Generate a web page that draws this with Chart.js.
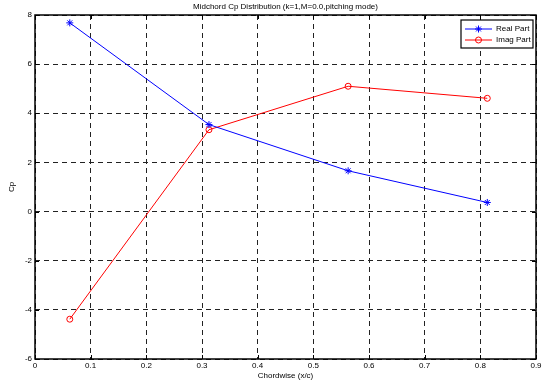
<!DOCTYPE html>
<html>
<head>
<meta charset="utf-8">
<script src="https://cdn.jsdelivr.net/npm/chart.js@4/dist/chart.umd.min.js"></script>
<style>
  html, body { margin: 0; padding: 0; background: #fff; }
  #wrap { width: 551px; height: 385px; position: relative; }
</style>
</head>
<body>
<div id="wrap"><canvas id="cp"></canvas></div>
<script>
// data
var chordX = [0.0625, 0.3125, 0.5625, 0.8125];
var realPart = [7.68, 3.54, 1.66, 0.37];
var imagPart = [-4.38, 3.33, 5.1, 4.61];
var xTicks = [0, 0.1, 0.2, 0.3, 0.4, 0.5, 0.6, 0.7, 0.8, 0.9];
var yTicks = [-6, -4, -2, 0, 2, 4, 6, 8];

var FONT = "'Liberation Sans', Arial, sans-serif";

function pts(xs, ys) {
    return xs.map(function (x, i) { return { x: x, y: ys[i] }; });
}

function marker(ctx, style, x, y, r, color) {
    ctx.save();
    ctx.strokeStyle = color;
    ctx.lineWidth = 1;
    ctx.beginPath();
    if (style === "star") {
        ctx.moveTo(x - r, y); ctx.lineTo(x + r, y);
        ctx.moveTo(x, y - r); ctx.lineTo(x, y + r);
        var d = r * 0.7;
        ctx.moveTo(x - d, y - d); ctx.lineTo(x + d, y + d);
        ctx.moveTo(x - d, y + d); ctx.lineTo(x + d, y - d);
    } else {
        ctx.arc(x, y, r, 0, Math.PI * 2);
    }
    ctx.stroke();
    ctx.restore();
}

// title, box, inner ticks and legend drawn like a matlab axes
var matlabBox = {
    id: "matlabBox",
    afterDraw: function (chart) {
        var ctx = chart.ctx, a = chart.chartArea;
        var sx = chart.scales.x, sy = chart.scales.y;
        ctx.save();
        ctx.strokeStyle = "#000";
        ctx.lineWidth = 1;
        ctx.beginPath();
        xTicks.forEach(function (v) {
            var px = Math.round(sx.getPixelForValue(v)) + 0.5;
            ctx.moveTo(px, a.bottom); ctx.lineTo(px, a.bottom - 4);
            ctx.moveTo(px, a.top); ctx.lineTo(px, a.top + 4);
        });
        yTicks.forEach(function (v) {
            var py = Math.round(sy.getPixelForValue(v)) + 0.5;
            ctx.moveTo(a.left, py); ctx.lineTo(a.left + 4, py);
            ctx.moveTo(a.right, py); ctx.lineTo(a.right - 4, py);
        });
        ctx.stroke();
        ctx.lineWidth = 1.5;
        ctx.strokeRect(a.left, a.top, a.right - a.left, a.bottom - a.top);

        // title
        ctx.fillStyle = "#000";
        ctx.font = "8px " + FONT;
        ctx.textAlign = "center";
        ctx.textBaseline = "middle";
        ctx.fillText("Midchord Cp Distribution (k=1,M=0.0,pitching mode)", (a.left + a.right) / 2, 7);

        // legend
        var lx = 461, ly = 20, lw = 72, lh = 28;
        ctx.fillStyle = "#fff";
        ctx.fillRect(lx, ly, lw, lh);
        ctx.lineWidth = 1.2;
        ctx.strokeStyle = "#000";
        ctx.strokeRect(lx, ly, lw, lh);
        chart.data.datasets.forEach(function (ds, i) {
            var y = ly + 9 + i * 11;
            ctx.beginPath();
            ctx.strokeStyle = ds.borderColor;
            ctx.lineWidth = 1;
            ctx.moveTo(lx + 4, y); ctx.lineTo(lx + 31, y);
            ctx.stroke();
            marker(ctx, ds.pointStyle, lx + 17.5, y, ds.pointRadius, ds.borderColor);
            ctx.fillStyle = "#000";
            ctx.textAlign = "left";
            ctx.fillText(ds.label, lx + 35, y);
        });
        ctx.restore();
    }
};

new Chart(document.getElementById("cp"), {
    type: "line",
    data: {
        datasets: [{
            label: "Real Part",
            data: pts(chordX, realPart),
            borderColor: "#0000ff",
            backgroundColor: "#0000ff",
            borderWidth: 1,
            pointStyle: "star",
            pointRadius: 3.5,
            pointBorderWidth: 1,
            tension: 0
        }, {
            label: "Imag Part",
            data: pts(chordX, imagPart),
            borderColor: "#ff0000",
            backgroundColor: "rgba(0,0,0,0)",
            borderWidth: 1,
            pointStyle: "circle",
            pointRadius: 3,
            pointBorderWidth: 1,
            tension: 0
        }]
    },
    options: {
        responsive: true,
        maintainAspectRatio: false,
        animation: false,
        layout: { padding: { top: 15, right: 15, left: 0, bottom: 0 } },
        plugins: {
            legend: { display: false },
            title: { display: false },
            tooltip: { enabled: false }
        },
        scales: {
            x: {
                type: "linear",
                min: 0,
                max: 0.9,
                afterBuildTicks: function (s) {
                    s.ticks = xTicks.map(function (v) { return { value: v }; });
                },
                afterFit: function (s) { s.height = 26; },
                ticks: {
                    padding: 2,
                    maxRotation: 0,
                    color: "#000",
                    font: { family: FONT, size: 8 },
                    callback: function (v) { return String(Number(v.toFixed(1))); }
                },
                grid: { color: "#222", lineWidth: 1, drawTicks: false },
                border: { display: false, dash: [5, 4] },
                title: {
                    display: true,
                    text: "Chordwise (x/c)",
                    color: "#000",
                    font: { family: FONT, size: 8 },
                    padding: { top: 0, bottom: 4 }
                }
            },
            y: {
                type: "linear",
                min: -6,
                max: 8,
                afterBuildTicks: function (s) {
                    s.ticks = yTicks.map(function (v) { return { value: v }; });
                },
                afterFit: function (s) { s.width = 35; },
                ticks: {
                    padding: 3,
                    color: "#000",
                    font: { family: FONT, size: 8 }
                },
                grid: { color: "#222", lineWidth: 1, drawTicks: false },
                border: { display: false, dash: [5, 4] },
                title: {
                    display: true,
                    text: "Cp",
                    color: "#000",
                    font: { family: FONT, size: 8 },
                    padding: { top: 7, bottom: 0 }
                }
            }
        }
    },
    plugins: [matlabBox]
});
</script>
</body>
</html>
